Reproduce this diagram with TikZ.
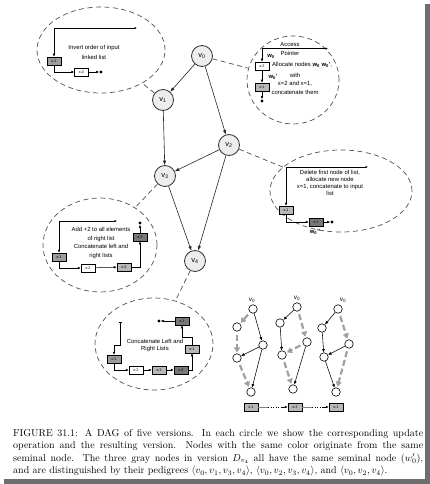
\documentclass[tikz,border=0pt]{standalone}
\usepackage{fontspec}
\newfontfamily\arial{Liberation Sans}
\usetikzlibrary{arrows.meta,shapes.geometric}
\definecolor{lgray}{HTML}{B8B8B8}
\definecolor{mgray}{HTML}{9C9C9C}
\definecolor{dgray}{HTML}{787878}
\definecolor{vfill}{HTML}{EDEDED}
\definecolor{dashcol}{HTML}{505050}
\definecolor{garrow}{HTML}{A0A0A0}
\definecolor{shadowcol}{HTML}{6E6E6E}
\begin{document}
\begin{tikzpicture}[x=1pt,y=-1pt,
  ver/.style={circle,draw=black!80,line width=0.8pt,fill=vfill,minimum size=21pt,inner sep=0pt,font=\arial\fontsize{7.5}{7.5}\selectfont},
  dedge/.style={-{Latex[length=4.5pt,width=3.4pt]},line width=0.6pt,draw=black!85},
  bubble/.style={ellipse,draw=dashcol,dash pattern=on 5pt off 3.5pt,line width=0.7pt,inner sep=0pt},
  tie/.style={draw=dashcol,dash pattern=on 5pt off 3.5pt,line width=0.7pt},
  lbox/.style={draw=black,line width=0.5pt,minimum width=14pt,minimum height=8pt,inner sep=0pt,font=\arial\fontsize{3.8}{4}\selectfont},
  ptr/.style={-{Latex[length=3pt,width=2.6pt]},line width=0.5pt},
  src/.style={{Latex[length=2.4pt,width=2.2pt]}-{Latex[length=3pt,width=2.6pt]},line width=0.5pt},
  txt/.style={font=\arial\fontsize{5.9}{7}\selectfont,align=center,inner sep=0pt},
  wl/.style={font=\arial\bfseries\fontsize{5.9}{6}\selectfont,inner sep=0pt},
  nil/.style={circle,fill=black,minimum size=3.2pt,inner sep=0pt},
  sv/.style={circle,draw=black,line width=0.6pt,fill=white,minimum size=8.5pt,inner sep=0pt},
  sedge/.style={-{Latex[length=3.5pt,width=3pt]},line width=0.55pt},
  gedge/.style={-{Triangle[length=5pt,width=6pt]},line width=2.2pt,draw=garrow,dash pattern=on 6pt off 3pt,shorten <=3pt,shorten >=1pt},
  vl/.style={font=\arial\fontsize{6.5}{7}\selectfont,inner sep=0pt}
]
\useasboundingbox (0,0) rectangle (430,484);
\fill[white] (0,0) rectangle (430,484);
\fill[shadowcol] (425,4) rectangle (430,484);
\fill[shadowcol] (4,479) rectangle (430,484);

% bubbles
\node[bubble,minimum width=128pt,minimum height=86pt] (c1) at (101,50) {};
\node[bubble,minimum width=92pt,minimum height=88pt] (c2) at (293,80) {};
\node[bubble,minimum width=142pt,minimum height=82pt] (c3) at (341,191) {};
\node[bubble,minimum width=114pt,minimum height=94pt] (c4) at (100,245) {};
\node[bubble,minimum width=118pt,minimum height=92pt] (c5) at (154,344) {};

% main DAG
\node[ver] (v0) at (202,56) {v\textsubscript{0}};
\node[ver] (v1) at (163,100) {v\textsubscript{1}};
\node[ver] (v2) at (229,145) {v\textsubscript{2}};
\node[ver] (v3) at (165,176) {v\textsubscript{3}};
\node[ver] (v4) at (195,261) {v\textsubscript{4}};
\draw[dedge] (v0) -- (v1);
\draw[dedge] (v0) -- (v2);
\draw[dedge] (v1) -- (v3);
\draw[dedge] (v2) -- (v3);
\draw[dedge] (v3) -- (v4);
\draw[dedge] (v2) -- (v4);
\draw[tie] (v1) -- (c1);
\draw[tie] (v0) -- (c2);
\draw[tie] (v2) -- (c3);
\draw[tie] (v3) -- (c4);
\draw[tie] (v4) -- (c5);

% bubble 1
\node[txt,font=\arial\fontsize{5.9}{10}\selectfont] (t1) at (94,52) {Invert order of input\\linked list};
\node[lbox,fill=mgray] (b1a) at (54,61) {x:1};
\node[lbox,fill=white] (b1b) at (81.5,72) {x:2};
\node[nil] (n1) at (101,72) {};
\coordinate (p1) at (137,28);
\draw[src] (p1) -| (b1a);
\draw[ptr] (b1a) |- (b1b);
\draw[ptr] (b1b) -- (n1);

% bubble 2
\node[txt] (t2a) at (290,44.5) {Access};
\node[txt] (t2b) at (290,53) {Pointer};
\coordinate (p2) at (328,48.5);
\node[lbox,fill=white] (b2a) at (262,66) {x:2};
\node[lbox,fill=lgray] (b2b) at (262,87) {x:1};
\node[nil] (n2) at (262,101) {};
\draw[src] (p2) -| (b2a);
\draw[ptr] (b2a) -- (b2b);
\draw[ptr] (b2b) -- (n2);
\node[wl] (w2a) at (271,56) {w\textsubscript{0}};
\node[wl] (w2b) at (273,77) {w\textsubscript{0}'};
\node[txt,anchor=west] (t2c) at (272,65) {Allocate nodes \textbf{w\textsubscript{0}} \textbf{w\textsubscript{0}'},};
\node[txt,font=\arial\fontsize{5.9}{8.5}\selectfont] (t2d) at (295,83.5) {with\\x=2 and x=1,\\concatenate them};

% bubble 3
\node[txt,font=\arial\fontsize{5.9}{7}\selectfont] (t3) at (330,183) {Delete first node of list,\\allocate new node\\x=1, concatenate to input\\list};
\coordinate (p3) at (368,167);
\node[lbox,fill=lgray] (b3a) at (286,210) {x:1};
\node[lbox,fill=dgray] (b3b) at (316,222) {x:1};
\node[nil] (n3) at (332,222) {};
\draw[src] (p3) -| (b3a);
\draw[ptr] (b3a) |- (b3b);
\draw[ptr] (b3b) -- (n3);
\node[wl] (w3) at (315,231.5) {w\textsubscript{0}''};

% bubble 4
\node[txt,font=\arial\fontsize{5.9}{8.7}\selectfont] (t4) at (101,243) {Add +2 to all elements\\of right list\\Concatenate left and\\right lists};
\coordinate (p4) at (117,221);
\node[lbox,fill=mgray] (b4a) at (59,257) {x:1};
\node[lbox,fill=white] (b4b) at (88,268) {x:2};
\node[lbox,fill=lgray] (b4c) at (124,267) {x:3};
\node[lbox,fill=dgray] (b4d) at (140,237) {x:3};
\node[nil] (n4) at (140,223) {};
\draw[src] (p4) -| (b4a);
\draw[ptr] (b4a) |- (b4b);
\draw[ptr] (b4b) -- (b4c);
\draw[ptr] (b4c) -| (b4d);
\draw[ptr] (b4d) -- (n4);

% bubble 5
\node[txt] (t5) at (155,345) {Concatenate Left and\\Right Lists};
\coordinate (p5) at (120,322);
\node[lbox,fill=mgray] (b5a) at (114,359) {x:1};
\node[lbox,fill=white] (b5b) at (136,370) {x:2};
\node[lbox,fill=lgray] (b5c) at (159,370) {x:3};
\node[lbox,fill=dgray] (b5d) at (181,370) {x:3};
\node[lbox,fill=lgray] (b5e) at (192,349) {x:1};
\node[lbox,fill=dgray] (b5f) at (182,321) {x:1};
\node[nil] (n5) at (159,321) {};
\draw[{Bar[width=3pt]}-{Latex[length=3pt,width=2.6pt]},line width=0.5pt] (p5) -- ++(0,23) -| (b5a.north);
\draw[ptr] (b5a) |- (b5b);
\draw[ptr] (b5b) -- (b5c);
\draw[ptr] (b5c) -- (b5d);
\draw[ptr] (b5d) -| (b5e);
\draw[ptr] (b5e.north) -- ++(0,-8) -| (b5f.south);
\draw[ptr] (b5f) -- (n5);

% small DAG 1
\node[vl] (la) at (252,300) {v\textsubscript{0}};
\node[sv] (a0) at (253,309) {};
\node[sv] (a1) at (237,327) {};
\node[sv] (a2) at (263,345) {};
\node[sv] (a3) at (237,358) {};
\node[sv] (a4) at (251,392) {};
\draw[sedge] (a0) -- (a2);
\draw[sedge] (a2) -- (a3);
\draw[sedge] (a2) -- (a4);
\draw[gedge] (a0) -- (a1);
\draw[gedge] (a1) -- (a3);
\draw[gedge] (a3) -- (a4);

% small DAG 2
\node[vl] (lb) at (297,298) {v\textsubscript{0}};
\node[sv] (d0) at (297,307) {};
\node[sv] (d1) at (280,323) {};
\node[sv] (d2) at (307,342) {};
\node[sv] (d3) at (282,355) {};
\node[sv] (d4) at (293,389) {};
\draw[sedge] (d0) -- (d1);
\draw[sedge] (d1) -- (d3);
\draw[sedge] (d2) -- (d4);
\draw[gedge] (d0) -- (d2);
\draw[gedge] (d2) -- (d3);
\draw[gedge] (d3) -- (d4);

% small DAG 3
\node[vl] (lc) at (343,300) {v\textsubscript{0}};
\node[sv] (e0) at (338,309) {};
\node[sv] (e1) at (322,328) {};
\node[sv] (e2) at (349,344) {};
\node[sv] (e3) at (324,357) {};
\node[sv] (e4) at (336,392) {};
\draw[sedge] (e0) -- (e1);
\draw[sedge] (e1) -- (e3);
\draw[sedge] (e2) -- (e3);
\draw[sedge] (e3) -- (e4);
\draw[gedge] (e0) -- (e2);
\draw[gedge] (e2) -- (e4);

% bottom list
\node[lbox,fill=lgray] (q1) at (251,407) {x:1};
\node[lbox,fill=lgray] (q2) at (295,407) {x:3};
\node[lbox,fill=lgray] (q3) at (336,407) {x:1};
\coordinate (m1a) at (268,407);
\coordinate (m1b) at (282,407);
\coordinate (m2a) at (312,407);
\coordinate (m2b) at (323,407);
\draw[line width=0.6pt,gray] (q1) -- (m1a);
\draw[dotted,line width=0.6pt] (m1a) -- (m1b);
\draw[ptr] (m1b) -- (q2);
\draw[line width=0.6pt,gray] (q2) -- (m2a);
\draw[dotted,line width=0.6pt] (m2a) -- (m2b);
\draw[ptr] (m2b) -- (q3);

% caption
\node[anchor=north west,inner sep=0pt,text width=410pt,align=justify,font=\fontsize{10}{12.5}\selectfont] (cap) at (13,429) {FIGURE 31.1: A DAG of five versions. In each circle we show the corresponding update\linebreak operation and the resulting version. Nodes with the same color originate from the same\linebreak seminal node. The three gray nodes in version $D_{v_4}$ all have the same seminal node $(w_0')$,\linebreak and are distinguished by their pedigrees $\langle v_0,v_1,v_3,v_4\rangle$, $\langle v_0,v_2,v_3,v_4\rangle$, and $\langle v_0,v_2,v_4\rangle$.};
\end{tikzpicture}
\end{document}
